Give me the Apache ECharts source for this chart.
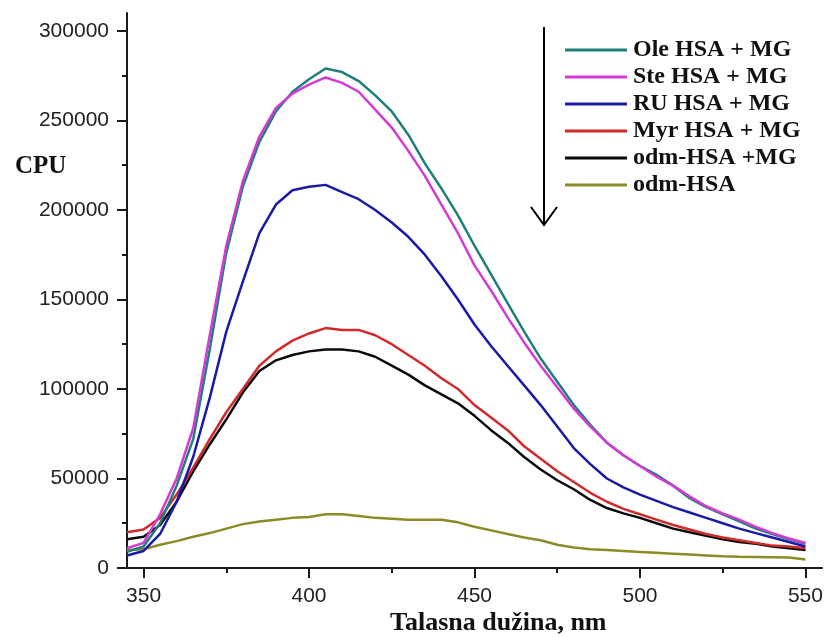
<!DOCTYPE html>
<html>
<head>
<meta charset="utf-8">
<title>CPU</title>
<script src="https://cdn.jsdelivr.net/npm/echarts@6.0.0/dist/echarts.min.js"></script>
<style>
  html, body { margin: 0; padding: 0; background: #fff; }
  #chart { width: 825px; height: 638px; }
</style>
</head>
<body>
<div id="chart"></div>
<script>
// wavelength, nm
const wavelengths = [345, 350, 355, 360, 365, 370, 375, 380, 385, 390, 395, 400, 405, 410, 415, 420, 425, 430, 435, 440, 445,
  450, 455, 460, 465, 470, 475, 480, 485, 490, 495, 500, 505, 510, 515, 520, 525, 530, 535, 540, 545, 550];

const oleHsaMg = [9000, 12000, 25000, 46000, 72000, 122000, 176000, 213000, 238000, 255000, 266000, 273000, 279000, 277000, 272000,
  264000, 255000, 242000, 226000, 212000, 197000, 180000, 164000, 148000, 132000, 117000, 104000, 91000, 80000, 70000, 63000,
  57000, 52000, 46000, 39000, 34000, 30000, 26000, 22000, 19000, 16000, 13500];
const steHsaMg = [11000, 14000, 30000, 50000, 78000, 130000, 180000, 216000, 241000, 257000, 265000, 270000, 274000, 271000, 266000,
  256000, 246000, 233000, 219000, 203000, 187000, 169000, 155000, 140000, 126000, 113000, 101000, 89000, 79000, 70000, 63000,
  57000, 51000, 46000, 40000, 34500, 30500, 27000, 23000, 19500, 16500, 14000];
const ruHsaMg = [7000, 9500, 19000, 37000, 62000, 95000, 132000, 160000, 187000, 203000, 211000, 213000, 214000, 210000, 206000,
  200000, 193000, 185000, 175000, 163000, 150000, 136000, 124000, 113000, 102000, 91000, 79000, 67000, 58000, 50000, 45000,
  41000, 37500, 34000, 31000, 28000, 25000, 22000, 19500, 17000, 14500, 12000];
const myrHsaMg = [20000, 21500, 28000, 41000, 56000, 72000, 87000, 100000, 113000, 121000, 127000, 131000, 134000, 133000, 133000,
  130000, 125000, 119000, 113000, 106000, 100000, 91000, 84000, 77000, 68000, 61000, 54000, 48000, 42000, 37000, 33000,
  30000, 27000, 24000, 21500, 19000, 17000, 15500, 14000, 12500, 12000, 11000];
const odmHsaMg = [16000, 17500, 24000, 37000, 54000, 69000, 83000, 98000, 110000, 116000, 119000, 121000, 122000, 122000, 121000,
  118000, 113000, 108000, 102000, 97000, 92000, 85000, 77000, 70000, 62000, 55000, 49000, 44000, 38000, 33500, 30500,
  28000, 25000, 22000, 20000, 18000, 16000, 14500, 13500, 12000, 11000, 10000];
const odmHsa = [10000, 10500, 13000, 15000, 17500, 19500, 22000, 24500, 26000, 27000, 28000, 28500, 30000, 30000, 29000,
  28000, 27500, 27000, 27000, 27000, 25500, 23000, 21000, 19000, 17000, 15500, 13000, 11500, 10500, 10000, 9500,
  9000, 8500, 8000, 7500, 7000, 6500, 6300, 6200, 6000, 5800, 4800];

const xMajor = [350, 400, 450, 500, 550];
const xMinor = [375, 425, 475, 525];
const yMajor = [0, 50000, 100000, 150000, 200000, 250000, 300000];
const yMinor = [25000, 75000, 125000, 175000, 225000, 275000];

const legendNames = ["Ole HSA + MG", "Ste HSA + MG", "RU HSA + MG", "Myr HSA + MG", "odm-HSA +MG", "odm-HSA"];

const chart = echarts.init(document.getElementById("chart"));

function pairs(values) {
  return wavelengths.map((w, i) => [w, values[i]]);
}

function line(name, values, color) {
  return {
    name: name,
    type: "line",
    symbol: "none",
    data: pairs(values),
    lineStyle: { color: color, width: 2.5 },
    itemStyle: { color: color },
  };
}

const axisColor = "#1a1a1a";
const sans = "'Liberation Sans', Arial, sans-serif";
const serif = "'Liberation Serif', 'Times New Roman', serif";

const option = {
  animation: false,
  backgroundColor: "#fff",
  grid: { left: 127, top: 13, right: 3, bottom: 70, outerBoundsMode: "none" },
  legend: {
    data: legendNames,
    orient: "vertical",
    left: 565,
    top: 38,
    padding: 0,
    icon: "rect",
    itemWidth: 62,
    itemHeight: 3,
    itemGap: 3,
    textStyle: { fontFamily: serif, fontWeight: "bold", fontSize: 24, lineHeight: 24, color: "#111", padding: [0, 0, 0, 1] },
  },
  xAxis: [
    {
      type: "value",
      min: 345,
      max: 555,
      position: "bottom",
      axisLine: { lineStyle: { color: axisColor, width: 2 } },
      axisTick: { customValues: xMajor, length: 10, lineStyle: { color: axisColor, width: 2 } },
      axisLabel: { customValues: xMajor, margin: 18, fontFamily: sans, fontSize: 21, color: "#222" },
      splitLine: { show: false },
    },
    {
      // minor ticks
      type: "value",
      min: 345,
      max: 555,
      position: "bottom",
      axisLine: { show: false },
      axisTick: { customValues: xMinor, length: 5, lineStyle: { color: axisColor, width: 2 } },
      axisLabel: { show: false },
      splitLine: { show: false },
    },
  ],
  yAxis: [
    {
      type: "value",
      min: 0,
      max: 310000,
      position: "left",
      axisLine: { show: true, lineStyle: { color: axisColor, width: 2 } },
      axisTick: { show: true, customValues: yMajor, length: 10, lineStyle: { color: axisColor, width: 2 } },
      axisLabel: {
        customValues: yMajor,
        margin: 18,
        fontFamily: sans,
        fontSize: 21,
        color: "#222",
        formatter: (v) => String(v),
      },
      splitLine: { show: false },
    },
    {
      type: "value",
      min: 0,
      max: 310000,
      position: "left",
      axisLine: { show: false },
      axisTick: { show: true, customValues: yMinor, length: 5, lineStyle: { color: axisColor, width: 2 } },
      axisLabel: { show: false },
      splitLine: { show: false },
    },
  ],
  graphic: [
    {
      type: "text",
      left: 15,
      top: 154,
      style: { text: "CPU", fontFamily: serif, fontWeight: "bold", fontSize: 25, fill: "#111" },
    },
    {
      type: "text",
      left: 390,
      top: 610,
      style: { text: "Talasna dužina, nm", fontFamily: serif, fontWeight: "bold", fontSize: 26, fill: "#111" },
    },
    // arrow
    {
      type: "line",
      shape: { x1: 544, y1: 27, x2: 544, y2: 224 },
      style: { stroke: "#000", lineWidth: 2 },
    },
    {
      type: "polyline",
      shape: { points: [[531, 207], [544, 225], [557, 207]] },
      style: { stroke: "#000", lineWidth: 2, fill: null },
    },
  ],
  series: [
    line(legendNames[5], odmHsa, "#8c8b25"),
    line(legendNames[4], odmHsaMg, "#0a0a0a"),
    line(legendNames[3], myrHsaMg, "#cf2b2b"),
    line(legendNames[2], ruHsaMg, "#1a1aa6"),
    line(legendNames[0], oleHsaMg, "#1f7f79"),
    line(legendNames[1], steHsaMg, "#d23bd6"),
  ],
};

chart.setOption(option);
</script>
</body>
</html>
